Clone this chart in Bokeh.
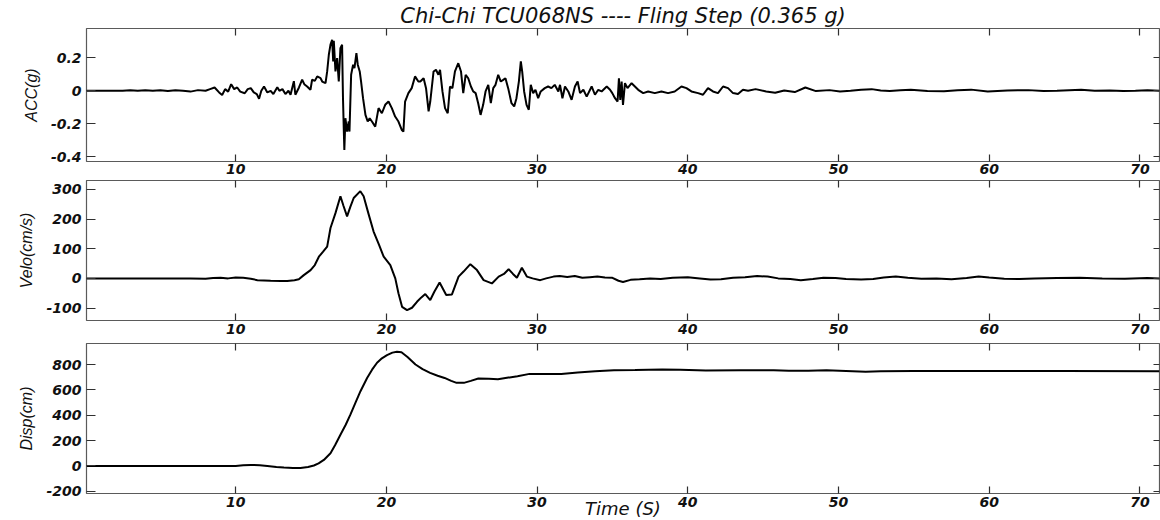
from bokeh.plotting import figure
from bokeh.layouts import column
from bokeh.models import FixedTicker, LinearAxis, Range1d, Title, PrintfTickFormatter
from bokeh.embed import file_html
from bokeh.resources import INLINE

# ---------------- data ----------------
title_text = "Chi-Chi TCU068NS ---- Fling Step (0.365 g)"
x_label = "Time (S)"
x_ticks = [10, 20, 30, 40, 50, 60, 70]

acc_t = [0.1, 2.5, 3.0, 3.5, 4.0, 4.5, 5.0, 5.5, 6.0, 6.5, 7.0, 7.5, 8.0, 8.3, 8.6, 8.9, 9.1, 9.3, 9.5, 9.7,
         9.9, 10.1, 10.3, 10.6, 10.8, 11.0, 11.2, 11.4, 11.55, 11.7, 11.88, 12.1, 12.32, 12.5, 12.76, 12.9,
         13.1, 13.3, 13.5, 13.64, 13.86, 13.96, 14.2, 14.41, 14.55, 14.74, 14.96, 15.07, 15.25, 15.41, 15.63,
         15.74, 15.96, 16.07, 16.18, 16.29, 16.40, 16.47, 16.51, 16.62, 16.73, 16.84, 16.95, 17.06, 17.12,
         17.17, 17.21, 17.28, 17.39, 17.50, 17.55, 17.66, 17.79, 17.88, 18.01, 18.10, 18.23, 18.32, 18.45,
         18.61, 18.76, 18.89, 19.04, 19.26, 19.48, 19.70, 19.92, 20.14, 20.36, 20.58, 20.80, 21.02, 21.13,
         21.24, 21.46, 21.68, 21.90, 22.12, 22.25, 22.47, 22.63, 22.80, 22.91, 23.13, 23.29, 23.45, 23.56,
         23.72, 23.89, 24.07, 24.22, 24.38, 24.55, 24.77, 24.95, 25.10, 25.26, 25.43, 25.61, 25.76, 25.92,
         26.09, 26.25, 26.42, 26.58, 26.76, 26.93, 27.09, 27.24, 27.42, 27.59, 27.75, 27.90, 28.08, 28.30,
         28.48, 28.63, 28.79, 28.92, 29.01, 29.14, 29.30, 29.45, 29.58, 29.74, 29.89, 30.07, 30.24, 30.51,
         30.73, 30.95, 31.17, 31.41, 31.52, 31.68, 31.85, 32.07, 32.29, 32.51, 32.69, 32.85, 33.07, 33.29,
         33.62, 33.84, 34.06, 34.28, 34.62, 34.84, 34.99, 35.17, 35.34, 35.43, 35.52, 35.61, 35.70, 35.83,
         36.00, 36.27, 36.49, 36.71, 37.04, 37.37, 37.81, 38.25, 38.69, 39.13, 39.58, 39.91, 40.24, 40.68,
         41.01, 41.34, 41.67, 42.00, 42.34, 42.67, 43.00, 43.33, 43.66, 44.0, 44.5, 45.2, 45.8, 46.4, 47.1,
         47.8, 48.5, 49.4, 50.1, 50.8, 51.5, 52.2, 52.8, 53.4, 54.1, 54.8, 55.9, 57.0, 57.9, 58.8, 59.9,
         61.2, 62.6, 63.6, 64.5, 65.3, 66.1, 67.0, 68.0, 68.9, 69.7, 70.5, 71.3]
acc_g = [0.0, 0.0, 0.003, 0.0, 0.003, 0.0, 0.003, -0.002, 0.003, 0.0, -0.005, 0.004, 0.0, 0.01, 0.02, -0.01,
         -0.025, 0.01, -0.005, 0.04, 0.01, 0.02, -0.005, -0.015, 0.01, 0.016, -0.01, -0.02, -0.048, 0.0, 0.026,
         -0.01, 0.0, -0.02, 0.022, 0.0, 0.01, -0.02, 0.0, -0.024, 0.058, -0.024, 0.02, 0.067, 0.04, 0.026,
         0.006, 0.067, 0.06, 0.087, 0.077, 0.056, 0.046, 0.117, 0.218, 0.279, 0.309, 0.178, 0.303, 0.117,
         0.198, 0.056, 0.258, 0.279, -0.045, -0.227, -0.358, -0.166, -0.247, -0.186, -0.247, 0.097, 0.158,
         0.137, 0.228, 0.158, 0.117, 0.056, -0.045, -0.146, -0.186, -0.166, -0.186, -0.217, -0.105, -0.136,
         -0.085, -0.065, -0.105, -0.156, -0.186, -0.237, -0.247, -0.065, -0.014, 0.016, 0.087, 0.056, 0.056,
         0.076, 0.016, -0.125, -0.065, 0.117, 0.127, 0.097, 0.127, -0.004, -0.105, -0.136, 0.026, 0.016,
         0.117, 0.167, 0.117, -0.014, 0.097, 0.076, 0.026, -0.004, -0.014, -0.075, -0.146, -0.085, -0.004,
         0.036, -0.075, 0.016, 0.036, 0.097, 0.056, 0.066, 0.076, 0.016, -0.075, -0.095, -0.045, 0.056,
         0.178, 0.117, -0.004, -0.085, -0.115, 0.036, -0.014, 0.006, -0.045, -0.004, 0.016, 0.026, 0.016,
         0.036, -0.004, 0.036, -0.045, 0.026, -0.004, -0.055, 0.026, 0.056, -0.014, 0.006, -0.035, 0.026,
         -0.024, 0.006, -0.004, 0.026, 0.006, -0.014, -0.045, -0.065, 0.076, -0.055, 0.056, -0.085, 0.046,
         0.016, 0.046, 0.026, 0.006, -0.014, -0.004, -0.014, -0.004, -0.014, -0.004, 0.026, 0.016, -0.004,
         -0.014, -0.024, 0.016, -0.004, -0.014, 0.026, 0.016, -0.014, -0.020, 0.006, 0.0, 0.010, -0.004,
         -0.012, 0.002, -0.008, 0.020, -0.002, 0.004, -0.004, 0.0, 0.006, 0.010, 0.002, -0.002, 0.003, 0.006,
         -0.002, -0.003, 0.003, 0.007, -0.005, 0.002, 0.004, -0.002, 0.0, 0.003, 0.006, 0.0, 0.002, -0.002,
         0.0, 0.003, 0.0]

velo_t = [0.1, 7.0, 8.0, 8.5, 9.0, 9.5, 10.0, 10.5, 11.0, 11.44, 12.32, 13.0, 13.42, 13.9, 14.19, 14.52,
          14.97, 15.25, 15.52, 15.8, 16.07, 16.29, 16.62, 16.95, 17.15, 17.39, 17.6, 17.83, 18.27, 18.49,
          18.8, 19.15, 19.5, 19.82, 20.26, 20.59, 20.8, 21.04, 21.37, 21.70, 22.03, 22.3, 22.58, 22.91,
          23.18, 23.53, 23.97, 24.35, 24.79, 25.12, 25.57, 26.01, 26.45, 27.0, 27.45, 27.8, 28.11, 28.4,
          28.66, 28.99, 29.32, 29.7, 30.21, 30.6, 31.09, 31.5, 32.0, 32.5, 33.0, 33.5, 34.0, 34.5, 35.0,
          35.4, 35.7, 36.2, 36.8, 37.5, 38.2, 39.0, 40.0, 40.8, 41.5, 42.2, 43.0, 43.8, 44.6, 45.3, 46.0,
          46.8, 47.5, 48.3, 49.0, 49.8, 50.5, 51.5, 52.3, 53.0, 53.8, 54.6, 55.5, 56.5, 57.5, 58.5, 59.3,
          60.0, 61.0, 62.0, 63.0, 64.5, 66.0, 67.5, 69.0, 70.5, 71.3]
velo_cms = [0, 0, -1, 1, 2, 0, 3, 2, -1, -6, -8, -9, -9, -6, -3, 11, 28, 45, 73, 90, 107, 170, 220, 277,
            245, 209, 240, 271, 294, 277, 220, 158, 115, 73, 45, 0, -50, -96, -107, -99, -79, -65, -53, -73,
            -45, -14, -56, -54, 6, 23, 48, 28, -6, -17, 6, 15, 31, 15, 2, 36, 6, 0, -6, 0, 6, 8, 5, 8, 2, 4,
            6, 3, 2, -8, -12, -5, -3, 0, -2, 2, 4, 0, -4, -3, 2, 4, 8, 6, 0, -2, -6, -2, 2, 1, -2, -4, -2, 3,
            6, 2, -1, 0, -3, 1, 6, 3, -1, -2, 0, 1, 2, 0, -1, 1, 0]

disp_t = [0.1, 10.0, 10.5, 11.0, 11.6, 12.1, 12.7, 13.2, 13.8, 14.3, 14.8, 15.19, 15.5, 15.85, 16.29, 16.6,
          16.95, 17.3, 17.61, 17.95, 18.28, 18.72, 19.05, 19.38, 19.7, 20.04, 20.4, 20.7, 21.0, 21.4, 21.93,
          22.4, 22.9, 23.4, 23.86, 24.3, 24.66, 25.14, 25.6, 26.1, 26.8, 27.4, 28.0, 28.7, 29.5, 30.5, 31.6,
          32.7, 33.85, 35.1, 36.5, 38.3, 39.5, 41.2, 43.5, 45.7, 46.7, 48.0, 49.2, 50.5, 51.8, 52.8, 55.0,
          60.0, 65.0, 71.3]
disp_cm = [0, 0, 5, 8, 5, 0, -8, -13, -16, -16, -8, 3, 20, 47, 100, 165, 246, 325, 405, 500, 590, 695, 760,
           815, 850, 875, 895, 902, 898, 860, 801, 765, 735, 712, 695, 672, 656, 656, 672, 690, 688, 685, 696,
           709, 727, 727, 727, 738, 748, 756, 757, 762, 760, 754, 755, 756, 752, 752, 756, 750, 743, 748, 749,
           749, 749, 748]

acc_ticks = [-0.4, -0.2, 0, 0.2]
velo_ticks = [-100, 0, 100, 200, 300]
disp_ticks = [-200, 0, 200, 400, 600, 800]

# ---------------- styling ----------------
TICK_FONT = "DejaVu Sans"
LABEL_FONT = "Liberation Sans"
FRAME_W = 1073
X_RANGE = (0.1, 71.3)


def panel(t, y, yr, yticks, ylabel, top, frame_h, bottom, xstand, xlabel=None):
    p = figure(frame_width=FRAME_W, frame_height=frame_h,
               x_range=Range1d(*X_RANGE), y_range=Range1d(*yr),
               output_backend="svg", toolbar_location=None,
               x_axis_location=None, y_axis_location=None,
               min_border_left=86, min_border_right=1,
               min_border_top=top, min_border_bottom=bottom)
    p.grid.grid_line_color = None
    p.outline_line_color = "#5a5a5a"
    p.outline_line_width = 1.2
    p.background_fill_color = "white"
    p.border_fill_color = "white"

    fmt = PrintfTickFormatter(format="%g")

    def style(ax, tick_in, show_labels, standoff=3):
        ax.axis_line_color = None
        ax.major_tick_in = tick_in
        ax.major_tick_out = 0
        ax.major_tick_line_color = "#303030"
        ax.major_tick_line_width = 1.2
        ax.minor_tick_line_color = None
        ax.formatter = fmt
        if show_labels:
            ax.major_label_text_font = TICK_FONT
            ax.major_label_text_font_style = "bold italic"
            ax.major_label_text_font_size = "14px"
            ax.major_label_text_color = "#111111"
            ax.major_label_standoff = standoff
        else:
            ax.major_label_text_font_size = "0px"
            ax.major_label_text_alpha = 0
            ax.major_label_standoff = 0

    xb = LinearAxis(ticker=FixedTicker(ticks=x_ticks))
    style(xb, 7, True, xstand)
    if xlabel:
        xb.axis_label = xlabel
        xb.axis_label_text_font = TICK_FONT
        xb.axis_label_text_font_style = "italic"
        xb.axis_label_text_font_size = "18px"
        xb.axis_label_text_color = "#111111"
        xb.axis_label_standoff = -12
    p.add_layout(xb, "below")
    xa = LinearAxis(ticker=FixedTicker(ticks=x_ticks))
    style(xa, 7, False)
    p.add_layout(xa, "above")
    yl = LinearAxis(ticker=FixedTicker(ticks=yticks), axis_label=ylabel)
    style(yl, 9, True, 5)
    yl.axis_label_text_font = LABEL_FONT
    yl.axis_label_text_font_style = "italic"
    yl.axis_label_text_font_size = "16px"
    yl.axis_label_text_color = "#111111"
    yl.axis_label_standoff = 8
    p.add_layout(yl, "left")
    yr_ax = LinearAxis(ticker=FixedTicker(ticks=yticks))
    style(yr_ax, 6, False)
    p.add_layout(yr_ax, "right")

    p.line(t, y, line_color="black", line_width=2)
    return p


p1 = panel(acc_t, acc_g, (-0.428, 0.377), acc_ticks, "ACC(g)", 27, 133, 19, 2)
p1.add_layout(Title(text=title_text, align="center", text_font=TICK_FONT,
                    text_font_style="italic", text_font_size="21px", text_color="#111111",
                    standoff=2, offset=10), "above")
p2 = panel(velo_t, velo_cms, (-142, 330), velo_ticks, "Velo(cm/s)", 0, 140, 23, 3)
p3 = panel(disp_t, disp_cm, (-218, 967), disp_ticks, "Disp(cm)", 0, 150, 28, 3, xlabel=x_label)

layout = column(p1, p2, p3, spacing=0)
open("out.html", "w").write(file_html(layout, INLINE))
